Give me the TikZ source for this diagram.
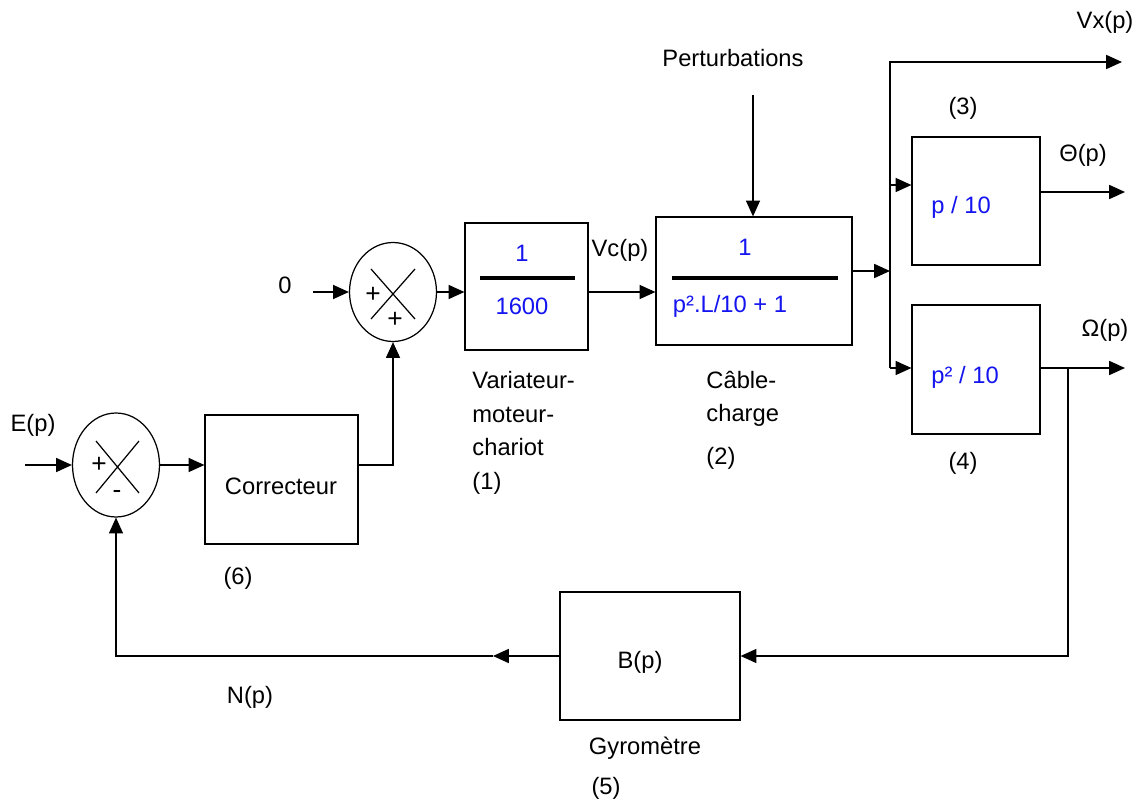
\documentclass[tikz,border=0pt]{standalone}
\usepackage{fontspec}
\setmainfont{Liberation Sans}
\usetikzlibrary{arrows.meta,shapes.geometric}
\definecolor{tfblue}{RGB}{20,20,240}
\begin{document}
\begin{tikzpicture}[x=0.02cm,y=-0.02cm,line width=0.7pt,
    every node/.style={font=\fontsize{13.5}{16}\selectfont},
    blk/.style={draw,inner sep=0pt},
    sumnode/.style={draw,ellipse,inner sep=0pt},
    arr/.style={-{Triangle[length=9pt,width=8pt]}},
    tf/.style={text=tfblue},
    bar/.style={line width=2.8pt}]
  \useasboundingbox (0,0) rectangle (1142,804);
  % sommateurs
  \node[sumnode,minimum width=1.74cm,minimum height=2.08cm] (s1) at (116,465) {};
  \node[sumnode,minimum width=1.74cm,minimum height=1.98cm] (s2) at (393,292) {};
  \draw (96,441) -- (139,493) (139,441) -- (96,493);
  \draw (371,269) -- (415,319) (415,269) -- (371,319);
  \node[font=\fontsize{15}{16}\selectfont] at (99,465) {+};
  \node[font=\fontsize{15}{16}\selectfont] at (117,494) {-};
  \node[font=\fontsize{15}{16}\selectfont] at (373,295) {+};
  \node[font=\fontsize{15}{16}\selectfont] at (395,320) {+};
  % blocs
  \node[blk,minimum width=3.06cm,minimum height=2.58cm] (cor) at (281.5,479.5) {};
  \node at (281,486) {Correcteur};
  \node[blk,minimum width=2.46cm,minimum height=2.54cm] (g1) at (526.5,286.5) {};
  \node[blk,minimum width=3.92cm,minimum height=2.56cm] (g2) at (754,281) {};
  \node[blk,minimum width=2.56cm,minimum height=2.56cm] (g3) at (976,201) {};
  \node[blk,minimum width=2.56cm,minimum height=2.58cm] (g4) at (976,369.5) {};
  \node[blk,minimum width=3.6cm,minimum height=2.56cm] (gyro) at (650,656) {};
  \node at (640,662) {B(p)};
  % fonctions de transfert
  \node[tf] (num1) at (522,253) {1};
  \draw[bar] (480,278) -- (575,278);
  \node[tf] (den1) at (522,306) {1600};
  \node[tf] (num2) at (745,247) {1};
  \draw[bar] (672,278) -- (838,278);
  \node[tf] (den2) at (730,306) {p².L/10 + 1};
  \node[tf,anchor=west] (tf3) at (925,207) {p / 10};
  \node[tf,anchor=west] (tf4) at (925,377) {p² / 10};
  % textes
  \node (ep) at (33,425) {E(p)};
  \node (zero) at (285,285) {0};
  \node (vc) at (620,250) {Vc(p)};
  \node (pert) at (733,58) {Perturbations};
  \node (vxl) at (1105,22) {Vx(p)};
  \node (thl) at (1083,155) {Θ(p)};
  \node (oml) at (1105,330) {Ω(p)};
  \node (npl) at (250,697) {N(p)};
  \node (n6) at (238,578) {(6)};
  \node (n3) at (963,108) {(3)};
  \node (n4) at (963,463) {(4)};
  \node (n5) at (606,788) {(5)};
  \node (gyl) at (645,748) {Gyromètre};
  \node[anchor=west] at (466,380) {Variateur-};
  \node[anchor=west] at (466,415) {moteur-};
  \node[anchor=west] at (466,447) {chariot};
  \node[anchor=west] at (466,483) {(1)};
  \node[anchor=west] at (700,380) {Câble-};
  \node[anchor=west] at (700,415) {charge};
  \node[anchor=west] at (700,458) {(2)};
  % liaisons
  \coordinate (ein) at (25,465);
  \coordinate (zin) at (313,292);
  \coordinate (pin) at (753,95);
  \coordinate (bus) at (890,271);
  \coordinate (b3) at (890,185);
  \coordinate (b4) at (890,368);
  \coordinate (vx) at (1122,62);
  \coordinate (th) at (1125,192);
  \coordinate (om) at (1125,368);
  \coordinate (fb) at (1068,368);
  \coordinate (nmid) at (493,656);
  \draw[arr] (ein) -- (s1.west);
  \draw[arr] (s1.east) -- (s1.east -| cor.west);
  \draw[arr] (cor.east |- s1.east) -| (s2.south);
  \draw[arr] (zin) -- (s2.west);
  \draw[arr] (s2.east) -- (s2.east -| g1.west);
  \draw[arr] (s2.east -| g1.east) -- (s2.east -| g2.west);
  \draw[arr] (pin) -- (pin |- g2.north);
  \draw[arr] (g2.east |- bus) -- (bus);
  \draw[arr] (b4) |- (vx);
  \draw[arr] (b3) -- (b3 -| g3.west);
  \draw[arr] (b4) -- (b4 -| g4.west);
  \draw[arr] (th -| g3.east) -- (th);
  \draw[arr] (om -| g4.east) -- (om);
  \draw[arr] (fb) |- (gyro.east);
  \draw[arr] (gyro.west) -- (nmid);
  \draw[arr] (nmid) -| (s1.south);
\end{tikzpicture}
\end{document}
